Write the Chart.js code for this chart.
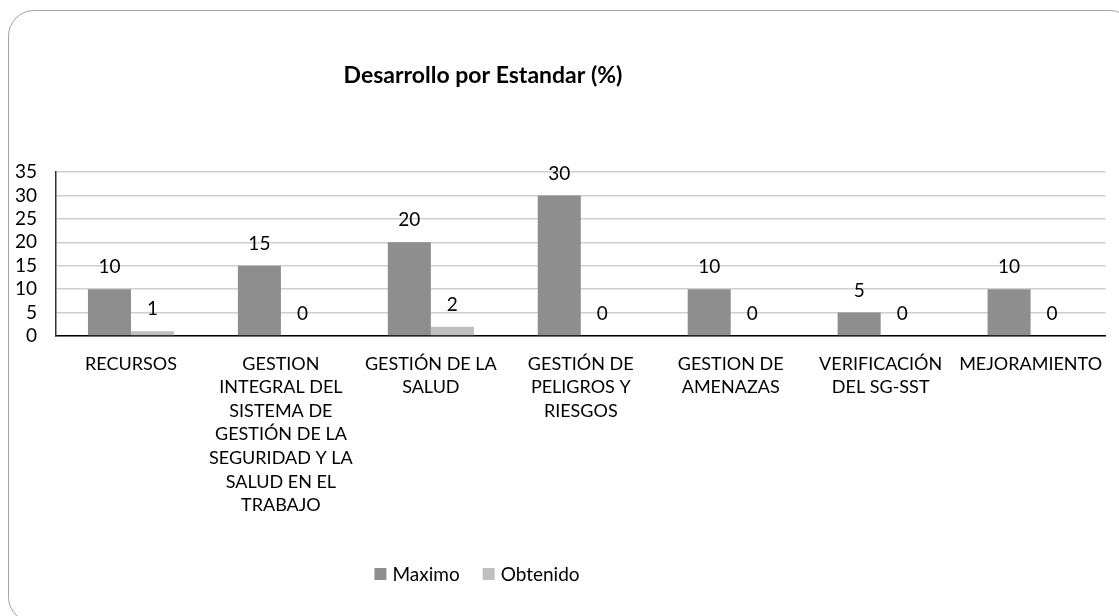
<!DOCTYPE html>
<html>
<head>
<meta charset="utf-8">
<script src="https://cdn.jsdelivr.net/npm/chart.js@4"></script>
<style>
  html, body { margin: 0; padding: 0; background: #fff; overflow: hidden; }
  #wrap { position: relative; width: 1119px; height: 616px; overflow: hidden; }
  #frame { position: absolute; left: 8px; top: 10px; width: 1126px; height: 611px;
           border: 1.5px solid #a3a3a3; border-radius: 26px; }
  #c { position: absolute; left: 0; top: 0; }
</style>
</head>
<body>
<div id="wrap">
  <div id="frame"></div>
  <canvas id="c" width="1119" height="616"></canvas>
</div>
<script>
const chartTitle = "Desarrollo por Estandar (%)";
const categories = [
  ["RECURSOS"],
  ["GESTION", "INTEGRAL DEL", "SISTEMA DE", "GESTIÓN DE LA", "SEGURIDAD Y LA", "SALUD EN EL", "TRABAJO"],
  ["GESTIÓN DE LA", "SALUD"],
  ["GESTIÓN DE", "PELIGROS Y", "RIESGOS"],
  ["GESTION DE", "AMENAZAS"],
  ["VERIFICACIÓN", "DEL SG-SST"],
  ["MEJORAMIENTO"]
];
const seriesNames = ["Maximo", "Obtenido"];
const maximo = [10, 15, 20, 30, 10, 5, 10];
const obtenido = [1, 0, 2, 0, 0, 0, 0];
const colors = ["#8e8e8e", "#bfbfbf"];
const FONT = "Lato";

const valueLabels = {
  id: "valueLabels",
  afterDatasetsDraw(chart) {
    const ctx = chart.ctx;
    ctx.save();
    ctx.font = "19px " + FONT;
    ctx.fillStyle = "#000";
    ctx.textAlign = "center";
    ctx.textBaseline = "middle";
    chart.data.datasets.forEach((ds, i) => {
      const meta = chart.getDatasetMeta(i);
      meta.data.forEach((bar, j) => {
        ctx.fillText(String(ds.data[j]), bar.x, bar.y - 22);
      });
    });
    ctx.restore();
  }
};

const titleAndLegend = {
  id: "titleAndLegend",
  afterDraw(chart) {
    const ctx = chart.ctx;
    ctx.save();
    ctx.font = "bold 23px " + FONT;
    ctx.fillStyle = "#000";
    ctx.textAlign = "center";
    ctx.textBaseline = "middle";
    ctx.fillText(chartTitle, 483, 76);

    ctx.font = "19px " + FONT;
    ctx.textAlign = "left";
    const sq = 12, gap = 6, between = 23;
    const widths = seriesNames.map(n => ctx.measureText(n).width);
    let total = 0;
    widths.forEach((w, i) => { total += sq + gap + w + (i < widths.length - 1 ? between : 0); });
    let x = 477 - total / 2;
    const y = 574;
    seriesNames.forEach((n, i) => {
      ctx.fillStyle = colors[i];
      ctx.fillRect(x, y - sq / 2, sq, sq);
      ctx.fillStyle = "#000";
      ctx.fillText(n, x + sq + gap, y + 1);
      x += sq + gap + widths[i] + between;
    });
    ctx.restore();
  }
};

new Chart(document.getElementById("c"), {
  type: "bar",
  data: {
    labels: categories,
    datasets: [
      { label: seriesNames[0], data: maximo, backgroundColor: colors[0], borderWidth: 0,
        categoryPercentage: 0.574, barPercentage: 1.0 },
      { label: seriesNames[1], data: obtenido, backgroundColor: colors[1], borderWidth: 0,
        categoryPercentage: 0.574, barPercentage: 1.0 }
    ]
  },
  options: {
    responsive: false,
    animation: false,
    devicePixelRatio: 1,
    layout: { padding: { top: 172, right: 13, left: 0, bottom: 0 } },
    plugins: {
      legend: { display: false },
      title: { display: false },
      tooltip: { enabled: false }
    },
    scales: {
      x: {
        grid: { display: false, drawTicks: false },
        border: { display: true, color: "#000", width: 1.5 },
        ticks: {
          color: "#000",
          font: { family: FONT, size: 18, lineHeight: 1.31 },
          padding: 16,
          maxRotation: 0,
          minRotation: 0,
          autoSkip: false
        },
        afterFit(scale) { scale.height = 280; }
      },
      y: {
        min: 0,
        max: 35,
        ticks: {
          stepSize: 5,
          autoSkip: false,
          color: "#000",
          font: { family: FONT, size: 19, lineHeight: 1 },
          padding: 19
        },
        grid: { color: "#cfcfcf", lineWidth: 1.5, drawTicks: false },
        border: { display: true, color: "#333", width: 1.5 },
        afterFit(scale) { scale.width = 56; }
      }
    }
  },
  plugins: [valueLabels, titleAndLegend]
});
</script>
</body>
</html>
